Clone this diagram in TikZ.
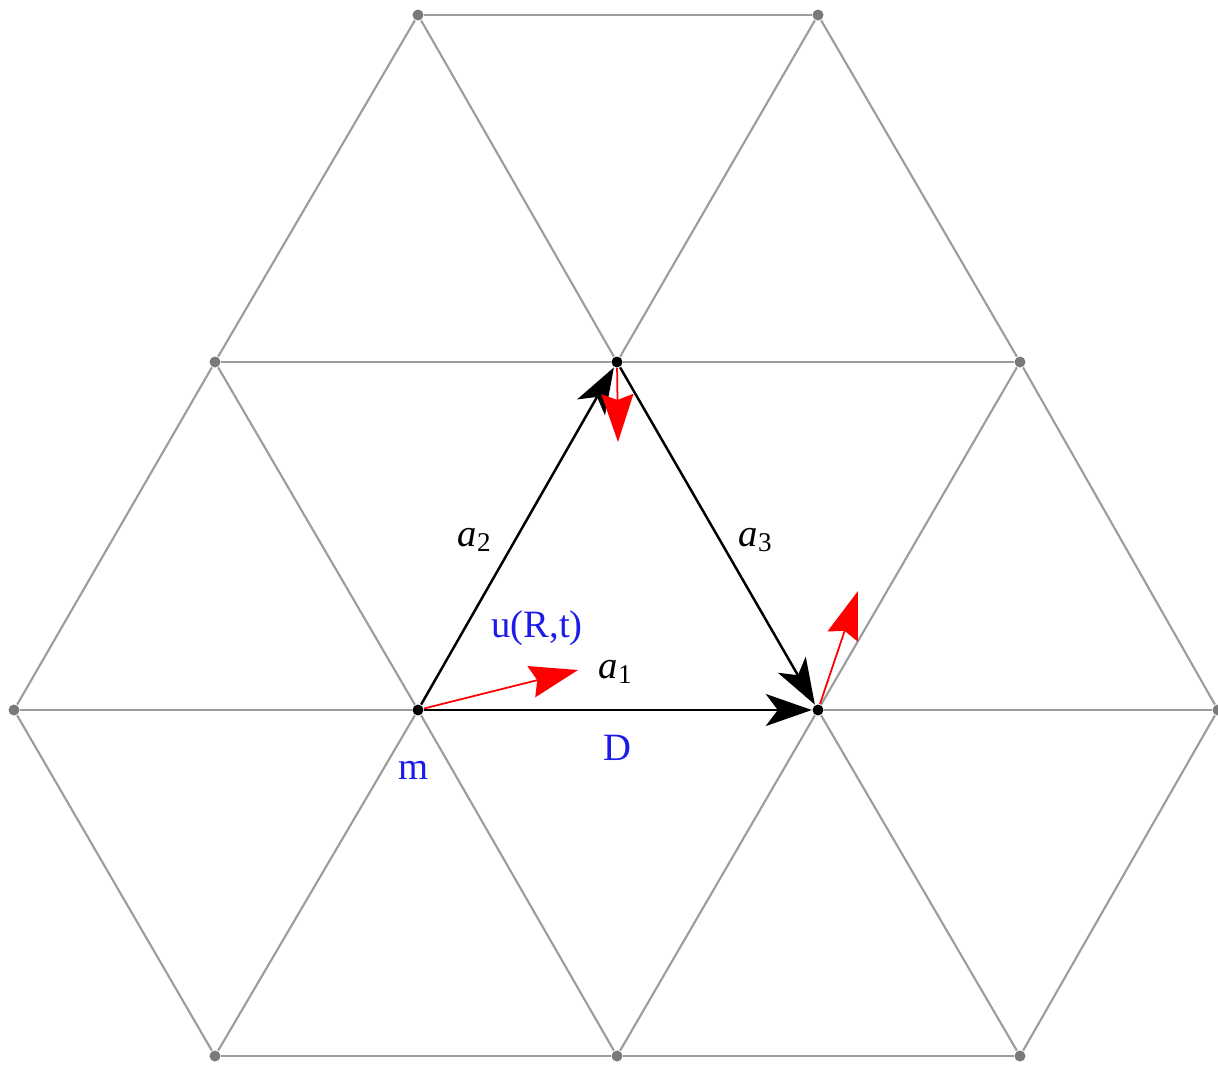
\documentclass[tikz,border=0pt]{standalone}
\usepackage{fontspec}
\setmainfont{Liberation Serif}
\usetikzlibrary{arrows.meta}
\definecolor{latgray}{HTML}{9C9C9C}
\definecolor{dotgray}{HTML}{7A7A7A}
\definecolor{lblblue}{HTML}{1C1CE8}

\begin{document}
\begin{tikzpicture}[
  every node/.style={font=\fontsize{11}{13}\selectfont},
  pt/.style={circle,fill=dotgray,inner sep=0pt,minimum size=1.1mm},
  site/.style={circle,fill=black,inner sep=0pt,minimum size=1.1mm},
  ln/.style={latgray,line width=0.6pt},
  vec/.style={-{Stealth[length=4.6mm,width=3.2mm,inset=1.2mm]},line width=0.7pt},
  disp/.style={-{Stealth[length=4.8mm,width=3.2mm,inset=0.6mm]},red,line width=0.5pt},
  lbl/.style={text=lblblue}]
\useasboundingbox (-4.18,-3.54) rectangle (8.00,7.10);

% lattice sites
\node[pt] (t1) at (0,6.95) {};
\node[pt] (t2) at (4.00,6.95) {};
\node[pt] (u1) at (-2.03,3.48) {};
\node[site] (u2) at (1.99,3.48) {};
\node[pt] (u3) at (6.02,3.48) {};
\node[pt] (c1) at (-4.04,0) {};
\node[site] (c2) at (0,0) {};
\node[site] (c3) at (4.00,0) {};
\node[pt] (c4) at (8.00,0) {};
\node[pt] (b1) at (-2.03,-3.46) {};
\node[pt] (b2) at (1.99,-3.46) {};
\node[pt] (b3) at (6.02,-3.46) {};

% bonds
\draw[ln] (t1) -- (t2);
\draw[ln] (u1) -- (t1) -- (u2) -- (t2) -- (u3);
\draw[ln] (u1) -- (u2) -- (u3);
\draw[ln] (c1) -- (u1) -- (c2); \draw[ln] (c3) -- (u3) -- (c4);
\draw[ln] (c1) -- (c2); \draw[ln] (c3) -- (c4);
\draw[ln] (c1) -- (b1) -- (c2) -- (b2) -- (c3) -- (b3) -- (c4);
\draw[ln] (b1) -- (b2) -- (b3);

% primitive vectors
\draw[vec] (c2) -- (c3);
\draw[vec] (c2) -- (u2);
\draw[vec] (u2) -- (c3);

% displacements
\coordinate (d1) at (1.60,0.40);
\coordinate (d2) at (2.00,2.68);
\coordinate (d3) at (4.40,1.19);
\draw[disp] (c2) -- (d1);
\draw[disp] (u2) -- (d2);
\draw[disp] (c3) -- (d3);

% labels
\node (la1) at (1.98,0.38) {\textit{a}\textsubscript{1}};
\node (la2) at (0.57,1.70) {\textit{a}\textsubscript{2}};
\node (la3) at (3.38,1.70) {\textit{a}\textsubscript{3}};
\node[lbl] (lu) at (1.19,0.82) {u(R,t)};
\node[lbl] (lD) at (1.99,-0.38) {D};
\node[lbl] (lm) at (-0.04,-0.60) {m};
\end{tikzpicture}
\end{document}
